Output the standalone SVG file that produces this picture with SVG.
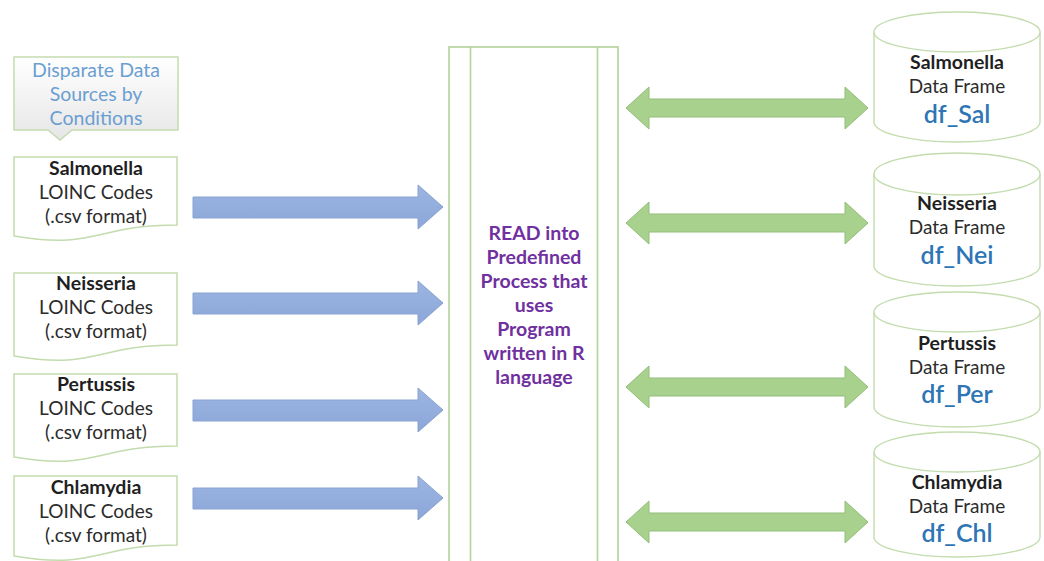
<svg xmlns="http://www.w3.org/2000/svg" width="1044" height="561" viewBox="0 0 1044 561">
  <defs>
    <linearGradient id="calloutFill" x1="0" y1="0" x2="0" y2="1">
      <stop offset="0" stop-color="#ffffff"/>
      <stop offset="1" stop-color="#e6e6e6"/>
    </linearGradient>
    <linearGradient id="blueFill" x1="0" y1="0" x2="0" y2="1">
      <stop offset="0" stop-color="#9cb5e2"/>
      <stop offset="1" stop-color="#8ba6d8"/>
    </linearGradient>
  </defs>
  <style>
    .outline { fill: #ffffff; stroke: #c3dcae; stroke-width: 1.5; }
    .proc { fill: #ffffff; stroke: #b2d39a; stroke-width: 1.6; }
    .cyl { fill: #ffffff; stroke: #c3dcae; stroke-width: 1.4; }
    .t { font-family: Lato, "Open Sans", "Liberation Sans", sans-serif; font-size: 19px; text-anchor: middle; }
    .name { font-weight: bold; font-size: 19.5px; fill: #1f1f1f; }
    .plain { fill: #2b2b2b; }
    .head { fill: #6b9fd2; font-size: 19.5px; }
    .proc-t { font-weight: bold; font-size: 19.5px; fill: #7030a0; }
    .df { font-size: 25px; font-weight: 600; fill: #2e75b6; }
    .blue-arrow { fill: url(#blueFill); stroke: #8aa2d0; stroke-width: 1; }
    .green-arrow { fill: #a9d18e; stroke: #93bd78; stroke-width: 1; }
  </style>

  <!-- heading callout -->
  <g id="sources-callout">
    <path class="outline" style="fill:url(#calloutFill)" d="M14,57 H178 V130 H72 L60,140 L48,130 H14 Z"/>
    <text class="t head" x="96" y="77">Disparate Data</text>
    <text class="t head" x="96" y="101">Sources by</text>
    <text class="t head" x="96" y="125">Conditions</text>
  </g>

  <!-- source documents -->
  <g id="doc-salmonella">
    <path class="outline" d="M14,157 H177 V225 C96,225 96,250 14,236 Z"/>
    <text class="t name" x="96" y="175">Salmonella</text>
    <text class="t plain" x="96" y="199">LOINC Codes</text>
    <text class="t plain" x="96" y="223">(.csv format)</text>
  </g>
  <g id="doc-neisseria">
    <path class="outline" d="M14,273 H177 V345 C96,345 96,370 14,356 Z"/>
    <text class="t name" x="96" y="290">Neisseria</text>
    <text class="t plain" x="96" y="314">LOINC Codes</text>
    <text class="t plain" x="96" y="338">(.csv format)</text>
  </g>
  <g id="doc-pertussis">
    <path class="outline" d="M14,374 H177 V446 C96,446 96,471 14,457 Z"/>
    <text class="t name" x="96" y="391">Pertussis</text>
    <text class="t plain" x="96" y="415">LOINC Codes</text>
    <text class="t plain" x="96" y="439">(.csv format)</text>
  </g>
  <g id="doc-chlamydia">
    <path class="outline" d="M14,476 H177 V545 C96,545 96,570 14,556 Z"/>
    <text class="t name" x="96" y="494">Chlamydia</text>
    <text class="t plain" x="96" y="518">LOINC Codes</text>
    <text class="t plain" x="96" y="542">(.csv format)</text>
  </g>

  <!-- predefined process -->
  <g id="process">
    <rect class="proc" x="449" y="47" width="169" height="530"/>
    <line class="proc" x1="470.5" y1="47" x2="470.5" y2="577"/>
    <line class="proc" x1="597.5" y1="47" x2="597.5" y2="577"/>
    <text class="t proc-t" x="534" y="240">READ into</text>
    <text class="t proc-t" x="534" y="264">Predefined</text>
    <text class="t proc-t" x="534" y="288">Process that</text>
    <text class="t proc-t" x="534" y="312">uses</text>
    <text class="t proc-t" x="534" y="336">Program</text>
    <text class="t proc-t" x="534" y="360">written in R</text>
    <text class="t proc-t" x="534" y="384">language</text>
  </g>

  <!-- data frame stores -->
  <g id="df-salmonella">
    <path class="cyl" d="M874,32 V122 A83,20 0 0 0 1040,122 V32"/>
    <ellipse class="cyl" cx="957" cy="32" rx="83" ry="20"/>
    <text class="t name" x="957" y="69">Salmonella</text>
    <text class="t plain" x="957" y="93">Data Frame</text>
    <text class="t df" x="957" y="123">df_Sal</text>
  </g>
  <g id="df-neisseria">
    <path class="cyl" d="M874,174 V266 A83,20 0 0 0 1040,266 V174"/>
    <ellipse class="cyl" cx="957" cy="174" rx="83" ry="21"/>
    <text class="t name" x="957" y="210">Neisseria</text>
    <text class="t plain" x="957" y="234">Data Frame</text>
    <text class="t df" x="957" y="264">df_Nei</text>
  </g>
  <g id="df-pertussis">
    <path class="cyl" d="M874,312 V407 A83,20 0 0 0 1040,407 V312"/>
    <ellipse class="cyl" cx="957" cy="312" rx="83" ry="20"/>
    <text class="t name" x="957" y="350">Pertussis</text>
    <text class="t plain" x="957" y="374">Data Frame</text>
    <text class="t df" x="957" y="403">df_Per</text>
  </g>
  <g id="df-chlamydia">
    <path class="cyl" d="M874,452 V537 A83,20 0 0 0 1040,537 V452"/>
    <ellipse class="cyl" cx="957" cy="452" rx="83" ry="20"/>
    <text class="t name" x="957" y="489">Chlamydia</text>
    <text class="t plain" x="957" y="513">Data Frame</text>
    <text class="t df" x="957" y="542">df_Chl</text>
  </g>

  <!-- connectors -->
  <g id="connectors">
    <path class="blue-arrow" d="M193,197 H418 V185 L443,207 L418,229 V218 H193 Z"/>
    <path class="blue-arrow" d="M193,293 H418 V281 L443,303 L418,325 V314 H193 Z"/>
    <path class="blue-arrow" d="M193,400 H418 V388 L443,410 L418,432 V421 H193 Z"/>
    <path class="blue-arrow" d="M193,488 H418 V476 L443,498 L418,520 V509 H193 Z"/>

    <path class="green-arrow" d="M626,108 L649,87 V99 H845 V87 L868,108 L845,129 V117 H649 V129 Z"/>
    <path class="green-arrow" d="M626,223 L649,202 V214 H845 V202 L868,223 L845,244 V232 H649 V244 Z"/>
    <path class="green-arrow" d="M626,387 L649,366 V378 H845 V366 L868,387 L845,408 V396 H649 V408 Z"/>
    <path class="green-arrow" d="M626,522 L649,501 V513 H845 V501 L868,522 L845,543 V531 H649 V543 Z"/>
  </g>
</svg>
